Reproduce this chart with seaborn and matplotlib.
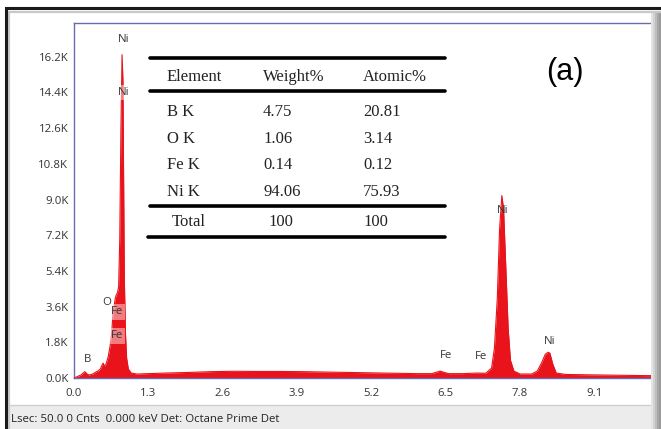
import numpy as np
import pandas as pd
import seaborn as sns
import matplotlib.pyplot as plt
from matplotlib.patches import Rectangle
from matplotlib.lines import Line2D

# spectrum (keV, counts)
energy = [0.00, 0.04, 0.08, 0.12, 0.16, 0.19, 0.22, 0.26, 0.30, 0.34, 0.38, 0.42,
          0.46, 0.49, 0.51, 0.53, 0.56, 0.60, 0.63, 0.66, 0.68, 0.70, 0.72, 0.74,
          0.76, 0.78, 0.80, 0.82, 0.84, 0.855, 0.87, 0.88, 0.90, 0.92, 0.95, 1.00,
          1.10, 1.30, 1.60, 2.00, 2.40, 2.80, 3.20, 3.60, 4.00, 4.40, 4.80, 5.20,
          5.60, 6.00, 6.25, 6.35, 6.40, 6.45, 6.55, 6.80, 7.05, 7.20, 7.30, 7.35,
          7.40, 7.44, 7.48, 7.51, 7.55, 7.59, 7.63, 7.69, 7.80, 8.00, 8.10, 8.18,
          8.24, 8.29, 8.32, 8.37, 8.43, 8.60, 9.00, 9.50, 10.00, 10.40]
counts = [0, 50, 100, 150, 250, 320, 220, 150, 180, 220, 300, 350,
          450, 650, 750, 600, 700, 1100, 1600, 2300, 3200, 3600, 4000, 4200,
          4300, 4600, 7000, 12500, 16300, 15000, 9000, 5000, 2200, 1000, 450, 250,
          200, 220, 250, 280, 320, 340, 330, 330, 320, 300, 280, 260,
          240, 220, 220, 300, 350, 300, 220, 220, 250, 240, 500, 1500,
          4000, 7500, 9200, 8500, 5500, 2500, 900, 350, 200, 200, 350, 800,
          1200, 1300, 1250, 700, 250, 180, 160, 140, 120, 120]

peak_labels = ["Ni", "Ni", "O", "Fe", "Fe", "B", "Fe", "Fe", "Ni", "Ni"]
label_keV = [0.874, 0.874, 0.577, 0.75, 0.75, 0.245, 6.5, 7.12, 7.5, 8.32]
label_counts = [17070, 14400, 3790, 3330, 2120, 910, 1110, 1060, 8430, 1820]
label_boxed = [False, True, False, True, True, False, False, False, False, False]

elements = ["B K", "O K", "Fe K", "Ni K"]
weight_pct = ["4.75", "1.06", "0.14", "94.06"]
atomic_pct = ["20.81", "3.14", "0.12", "75.93"]

x_ticks = [0.0, 1.3, 2.6, 3.9, 5.2, 6.5, 7.8, 9.1]
y_ticks = [0, 1800, 3600, 5400, 7200, 9000, 10800, 12600, 14400, 16200]

sns.set_style("white")
plt.rcParams['font.family'] = ['Open Sans', 'DejaVu Sans']

W, H = 661, 429
fig = plt.figure(figsize=(W / 100, H / 100), dpi=100)


def fx(px):
    return px / W


def fy(py):
    return 1 - py / H


# outer frame and status bar
fig.patches.append(Rectangle((fx(0), fy(429)), 1, 1, transform=fig.transFigure,
                             facecolor="white", edgecolor="none", zorder=-5))
fig.patches.append(Rectangle((fx(10), fy(429)), fx(660), fy(405) - fy(429),
                             transform=fig.transFigure, facecolor="#ececec",
                             edgecolor="none", zorder=-4))
fig.lines.append(Line2D([fx(10), 1], [fy(405), fy(405)], transform=fig.transFigure,
                        color="#cfcfcf", lw=1))
for i, shade in enumerate(["#e4e4e4", "#d2d2d2", "#bdbdbd", "#a8a8a8", "#9a9a9a"]):
    fig.patches.append(Rectangle((fx(651 + 2 * i), 0), fx(2), fy(12), transform=fig.transFigure,
                                 facecolor=shade, edgecolor="none", zorder=5))
fig.patches.append(Rectangle((fx(8.5), fy(440)), fx(670), fy(11.5) - fy(440),
                             transform=fig.transFigure, facecolor="none",
                             edgecolor="#c9c9c9", lw=1.6, zorder=6))
fig.patches.append(Rectangle((fx(6), fy(440)), fx(670), fy(8) - fy(440),
                             transform=fig.transFigure, facecolor="none",
                             edgecolor="#1a1a1a", lw=2.2, zorder=7))
fig.text(fx(11), fy(420), "Lsec: 50.0 0 Cnts  0.000 keV Det: Octane Prime Det",
         fontsize=8.2, color="#222222", va="center", ha="left", zorder=10)

ax = fig.add_axes([fx(74), fy(378), fx(651 - 74), fy(23) - fy(378)])
ax.set_facecolor("white")

df = pd.DataFrame({"keV": energy, "counts": counts})
ax.fill_between(df["keV"], df["counts"], color="#e8131b", lw=0, zorder=2)
sns.lineplot(data=df, x="keV", y="counts", ax=ax, color="#e8131b", lw=0.8, zorder=3)

ax.set_xlim(0, (651 - 74) / 57.2)
ax.set_ylim(0, 17900)
ax.set_xticks(x_ticks)
ax.set_xticklabels([f"{v:.1f}" for v in x_ticks])
ax.set_yticks(y_ticks)
ax.set_yticklabels([f"{v / 1000:.1f}K" for v in y_ticks])
ax.tick_params(axis="both", labelsize=8.2, labelcolor="#333333", color="#6a6ab0",
               length=2.5, width=0.8, pad=1.5, direction="out")
ax.tick_params(axis="x", pad=5)
ax.set_xlabel("")
ax.set_ylabel("")
for side in ["left", "top", "bottom"]:
    ax.spines[side].set_color("#6a6ab0")
    ax.spines[side].set_linewidth(1.0)
ax.spines["right"].set_visible(False)

for lab, e, c, boxed in zip(peak_labels, label_keV, label_counts, label_boxed):
    bbox = dict(facecolor="white", alpha=0.45, edgecolor="none", pad=1.5) if boxed else None
    ax.text(e, c, lab, fontsize=8.2, color="#333333", ha="center", va="center",
            bbox=bbox, zorder=4)

# composition table
serif = "Liberation Serif"
tcol = "#222222"
col_x = [167, 263, 363]
for px, txt in zip(col_x, ["Element", "Weight%", "Atomic%"]):
    fig.text(fx(px), fy(77), txt, family=serif, fontsize=12, color=tcol, va="center")
row_y = [112, 139, 165, 192]
for py, el, w, a in zip(row_y, elements, weight_pct, atomic_pct):
    fig.text(fx(col_x[0]), fy(py), el, family=serif, fontsize=12, color=tcol, va="center")
    fig.text(fx(col_x[1]), fy(py), w, family=serif, fontsize=12, color=tcol, va="center")
    fig.text(fx(col_x[2]), fy(py), a, family=serif, fontsize=12, color=tcol, va="center")
fig.text(fx(172), fy(222), "Total", family=serif, fontsize=12, color=tcol, va="center")
fig.text(fx(268), fy(222), "100", family=serif, fontsize=12, color=tcol, va="center")
fig.text(fx(363), fy(222), "100", family=serif, fontsize=12, color=tcol, va="center")
for py, x0 in [(58, 150), (91, 150), (206, 150), (237, 148)]:
    fig.lines.append(Line2D([fx(x0), fx(445)], [fy(py), fy(py)],
                            transform=fig.transFigure, color="black", lw=2.6))

fig.text(fx(565), fy(72), "(a)", family="Liberation Sans", fontsize=22,
         color="black", ha="center", va="center")

fig.savefig("out.png", dpi=100)
